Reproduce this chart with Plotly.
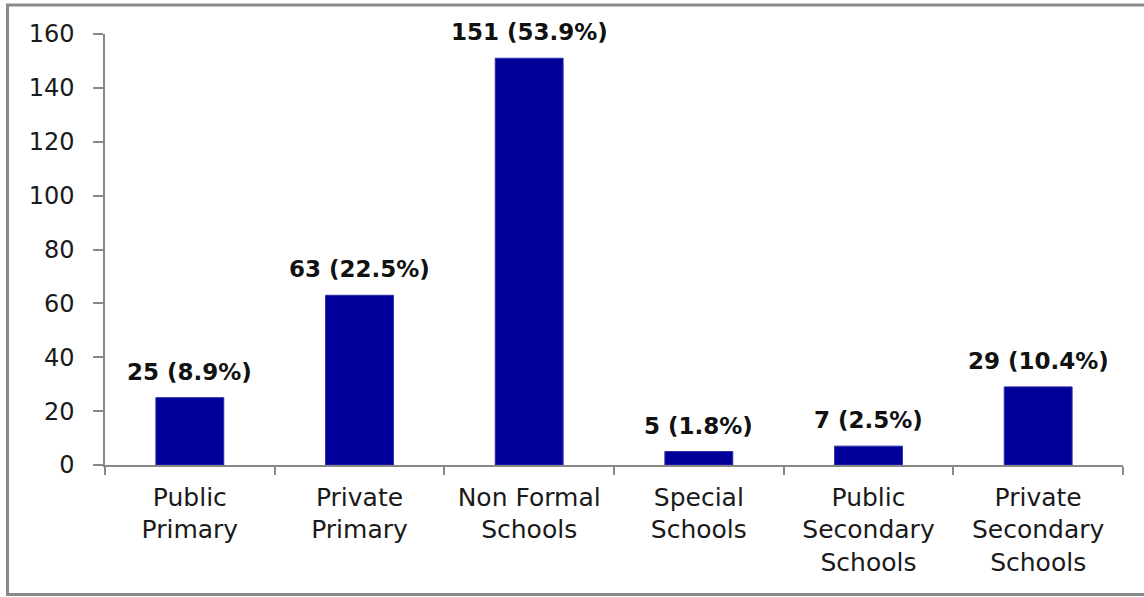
import plotly.graph_objects as go

categories = ["Public<br>Primary", "Private<br>Primary", "Non Formal<br>Schools",
              "Special<br>Schools", "Public<br>Secondary<br>Schools", "Private<br>Secondary<br>Schools"]
values = [25, 63, 151, 5, 7, 29]
percents = [8.9, 22.5, 53.9, 1.8, 2.5, 10.4]
y_ticks = [0, 20, 40, 60, 80, 100, 120, 140, 160]

W, H = 1144, 597
L, R, T, B = 105, 21, 34, 132
pw, ph = W - L - R, H - T - B

fig = go.Figure()
fig.add_trace(go.Bar(
    x=categories, y=values,
    marker=dict(color="#000099", line=dict(color="#2a2aa8", width=1)),
    width=0.4,
    hoverinfo="skip",
))

for c, v, p in zip(categories, values, percents):
    fig.add_annotation(
        x=c, y=v, xref="x", yref="y",
        text=f"<b>{v} ({p}%)</b>", showarrow=False,
        yanchor="bottom", yshift=11,
        font=dict(family="DejaVu Sans", size=23, color="#111111"),
    )

# outer chart frame
fig.add_shape(
    type="rect", xref="paper", yref="paper",
    x0=(7.5 - L) / pw, x1=(1152 - L) / pw,
    y0=(T + ph - 594.5) / ph, y1=(T + ph - 5) / ph,
    line=dict(color="#898989", width=3), fillcolor="rgba(0,0,0,0)", layer="below",
)

fig.update_layout(
    width=W, height=H,
    margin=dict(l=L, r=R, t=T, b=B),
    paper_bgcolor="white", plot_bgcolor="white",
    showlegend=False,
    font=dict(family="DejaVu Sans", color="#1a1a1a"),
)
fig.update_xaxes(
    type="category", tickson="boundaries",
    ticks="outside", ticklen=8, tickcolor="#888888", tickwidth=1.5,
    showline=True, linecolor="#888888", linewidth=1.5,
    showgrid=False, zeroline=False,
    tickfont=dict(family="DejaVu Sans", size=25, color="#1a1a1a"),
    ticklabelstandoff=9,
)
fig.update_yaxes(
    range=[0, 160], tickvals=y_ticks,
    ticks="outside", ticklen=10, tickcolor="#888888", tickwidth=1.5,
    showline=True, linecolor="#888888", linewidth=1.5,
    showgrid=False, zeroline=False,
    tickfont=dict(family="DejaVu Sans", size=24, color="#1a1a1a"),
    ticklabelstandoff=14,
)

fig.write_html("out.html")
